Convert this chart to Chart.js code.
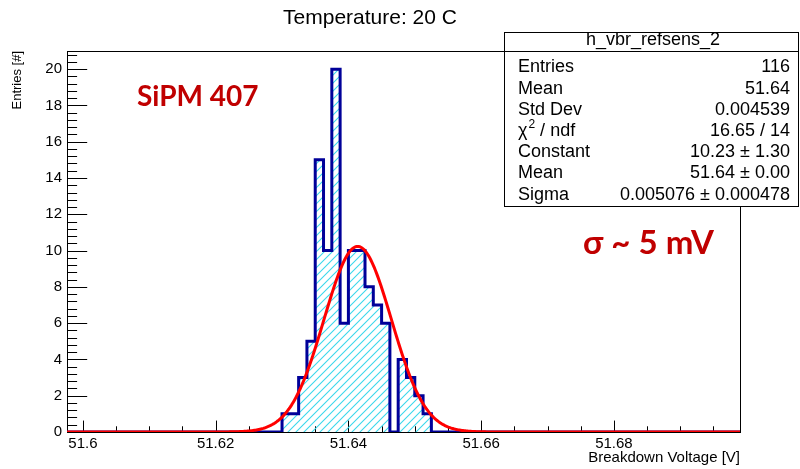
<!DOCTYPE html>
<html>
<head>
<meta charset="utf-8">
<title>h_vbr_refsens_2</title>
<script src="https://cdn.jsdelivr.net/npm/chart.js@4.4.1/dist/chart.umd.min.js"></script>
<style>
  html, body { margin: 0; padding: 0; background: #fff; }
  #grafico { display: block; }
</style>
</head>
<body>
<canvas id="grafico" width="800" height="469"></canvas>
<script>
// breakdown voltage histogram (V), bins of 1.25 mV
const xMin = 51.5976;
const xMax = 51.699;
const binStart = 51.63;
const binWidth = 0.00125;
const binCounts = [1, 1, 3, 5, 15, 10, 20, 6, 10, 10, 8, 7, 6, 0, 4, 3, 2, 1];

// gaussian fit
const fitConstant = 10.23;
const fitMean = 51.6414;
const fitSigma = 0.005076;

// axes
const xTickStep = 0.02;
const xMinorStep = 0.005;
const yMax = 21;
const yTickStep = 2;
const yMinorStep = 0.4;

// stats box
const statTitle = 'h_vbr_refsens_2';
const statNames = ['Entries', 'Mean', 'Std Dev', 'χ^2 / ndf', 'Constant', 'Mean', 'Sigma'];
const statValues = ['116', '51.64', '0.004539', '16.65 / 14', '10.23 ± 1.30', '51.64 ± 0.00', '0.005076 ± 0.000478'];

const rootFont = '"Liberation Sans", Arial, Helvetica, sans-serif';

// histogram outline as a step line
const histPoints = [{x: xMin, y: 0}];
binCounts.forEach((c, i) => histPoints.push({x: binStart + i * binWidth, y: c}));
histPoints.push({x: binStart + binCounts.length * binWidth, y: 0});
histPoints.push({x: xMax, y: 0});

// fit function over the full range
const fitPoints = [];
const nFit = 600;
for (let i = 0; i <= nFit; i++) {
  const x = xMin + (xMax - xMin) * i / nFit;
  fitPoints.push({x: x, y: fitConstant * Math.exp(-0.5 * Math.pow((x - fitMean) / fitSigma, 2))});
}

// cyan hatch "/"
const makeHatch = () => {
  const c = document.createElement('canvas');
  c.width = 8;
  c.height = 8;
  const g = c.getContext('2d');
  g.strokeStyle = '#3cd8ec';
  g.lineWidth = 1.1;
  g.beginPath();
  g.moveTo(-1, 9); g.lineTo(9, -1);
  g.moveTo(-1, 1); g.lineTo(1, -1);
  g.moveTo(7, 9); g.lineTo(9, 7);
  g.stroke();
  return g.createPattern(c, 'repeat');
};

// frame and ROOT-style inner ticks
const marcoPlugin = {
  id: 'marco',
  beforeDatasetsDraw(chart) {
    const {ctx, chartArea: a, scales: {x, y}} = chart;
    const w = a.right - a.left;
    const h = a.bottom - a.top;
    ctx.save();
    ctx.strokeStyle = '#000';
    ctx.lineWidth = 1;
    ctx.strokeRect(a.left + 0.5, a.top + 0.5, w, h);
    ctx.beginPath();
    const k0 = Math.ceil(xMin / xMinorStep - 1e-9);
    const k1 = Math.floor(xMax / xMinorStep + 1e-9);
    const perMajor = Math.round(xTickStep / xMinorStep);
    for (let k = k0; k <= k1; k++) {
      const px = Math.round(x.getPixelForValue(k * xMinorStep)) + 0.5;
      const len = k % perMajor === 0 ? 0.03 * h : 0.015 * h;
      ctx.moveTo(px, a.bottom);
      ctx.lineTo(px, a.bottom - len);
    }
    const yPerMajor = Math.round(yTickStep / yMinorStep);
    for (let k = 0; k * yMinorStep <= yMax; k++) {
      const py = Math.round(y.getPixelForValue(k * yMinorStep)) + 0.5;
      const len = k % yPerMajor === 0 ? 0.03 * w : 0.015 * w;
      ctx.moveTo(a.left, py);
      ctx.lineTo(a.left + len, py);
    }
    ctx.stroke();
    ctx.restore();
  }
};

// stats box and the red labels
const statsPlugin = {
  id: 'stats',
  afterDraw(chart) {
    const ctx = chart.ctx;
    const box = {left: 504, top: 32, right: 798, bottom: 206, header: 51};
    ctx.save();
    ctx.fillStyle = '#fff';
    ctx.fillRect(box.left, box.top, box.right - box.left, box.bottom - box.top);
    ctx.strokeStyle = '#000';
    ctx.lineWidth = 1;
    ctx.strokeRect(box.left + 0.5, box.top + 0.5, box.right - box.left, box.bottom - box.top);
    ctx.beginPath();
    ctx.moveTo(box.left, box.header + 0.5);
    ctx.lineTo(box.right, box.header + 0.5);
    ctx.stroke();

    ctx.fillStyle = '#000';
    ctx.textBaseline = 'middle';
    ctx.font = '18px ' + rootFont;
    ctx.textAlign = 'center';
    ctx.fillText(statTitle, (box.left + box.right) / 2 + 2, 40);
    statNames.forEach((name, i) => {
      const rowY = 67.5 + i * 21.2;
      ctx.textAlign = 'left';
      const parts = name.split('^');
      if (parts.length === 2) {
        ctx.fillText(parts[0], 518, rowY);
        let px = 518 + ctx.measureText(parts[0]).width;
        ctx.font = '12px ' + rootFont;
        ctx.fillText(parts[1].charAt(0), px + 1, rowY - 6);
        px += ctx.measureText(parts[1].charAt(0)).width + 1;
        ctx.font = '18px ' + rootFont;
        ctx.fillText(parts[1].slice(1), px, rowY);
      } else {
        ctx.fillText(name, 518, rowY);
      }
      ctx.textAlign = 'right';
      ctx.fillText(statValues[i], 790, rowY);
    });

    ctx.fillStyle = '#c00000';
    ctx.textAlign = 'left';
    ctx.font = 'bold 28px Lato, "Open Sans", sans-serif';
    ctx.fillText('SiPM 407', 137, 97);
    ctx.font = 'bold 33px Lato, "Open Sans", sans-serif';
    ctx.fillText('σ ~ 5 mV', 583, 243);
    ctx.restore();
  }
};

const chart = new Chart(document.getElementById('grafico').getContext('2d'), {
  type: 'line',
  data: {
    datasets: [
      {
        label: 'fit',
        data: fitPoints,
        borderColor: '#ff0000',
        borderWidth: 3,
        pointRadius: 0,
        fill: false,
        order: 0
      },
      {
        label: statTitle,
        data: histPoints,
        stepped: 'before',
        borderColor: '#000099',
        borderWidth: 3,
        backgroundColor: makeHatch(),
        pointRadius: 0,
        fill: 'origin',
        order: 1
      }
    ]
  },
  options: {
    responsive: false,
    animation: false,
    devicePixelRatio: 1,
    layout: { padding: { left: 0, right: 60, top: 4, bottom: 0 } },
    plugins: {
      legend: { display: false },
      tooltip: { enabled: false },
      title: {
        display: true,
        text: 'Temperature: 20 C',
        color: '#000',
        font: { family: rootFont, size: 21, weight: 'normal' },
        padding: { top: 1.4, bottom: 20.4 }
      }
    },
    scales: {
      x: {
        type: 'linear',
        min: xMin,
        max: xMax,
        afterFit: (s) => { s.height = 37; },
        grid: { display: false, drawTicks: false },
        border: { display: false },
        ticks: {
          stepSize: xTickStep,
          includeBounds: false,
          maxRotation: 0,
          autoSkip: false,
          padding: 3,
          color: '#000',
          font: { family: rootFont, size: 15 },
          callback: (v) => String(+v.toFixed(2))
        },
        title: {
          display: true,
          text: 'Breakdown Voltage [V]',
          align: 'end',
          color: '#000',
          font: { family: rootFont, size: 15 },
          padding: { top: 0, bottom: 2 }
        }
      },
      y: {
        min: 0,
        max: yMax,
        afterFit: (s) => { s.width = 67; },
        grid: { display: false, drawTicks: false },
        border: { display: false },
        ticks: {
          stepSize: yTickStep,
          includeBounds: false,
          padding: 5,
          color: '#000',
          font: { family: rootFont, size: 15 }
        },
        title: {
          display: true,
          text: 'Entries [#]',
          align: 'end',
          color: '#000',
          font: { family: rootFont, size: 13 },
          padding: { top: 10, bottom: 0 }
        }
      }
    }
  },
  plugins: [marcoPlugin, statsPlugin]
});
</script>
</body>
</html>
